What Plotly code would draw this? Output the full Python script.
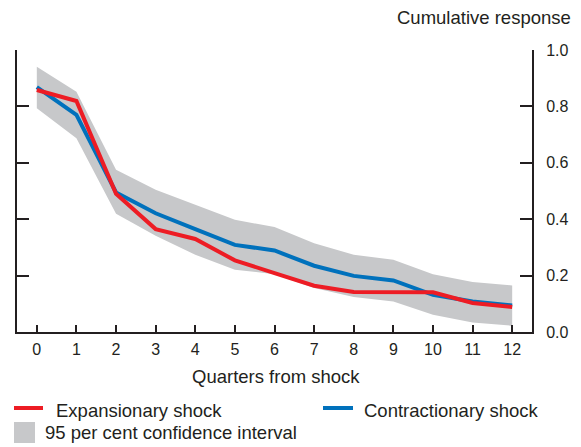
import plotly.graph_objects as go

quarters = list(range(13))
expansionary = [0.858, 0.819, 0.490, 0.365, 0.330, 0.254, 0.209, 0.164, 0.142, 0.141, 0.141, 0.103, 0.089]
contractionary = [0.868, 0.770, 0.495, 0.421, 0.365, 0.309, 0.289, 0.235, 0.199, 0.183, 0.132, 0.108, 0.094]
ci_upper = [0.941, 0.852, 0.575, 0.504, 0.451, 0.398, 0.372, 0.315, 0.274, 0.256, 0.205, 0.177, 0.165]
ci_lower = [0.793, 0.687, 0.419, 0.341, 0.274, 0.221, 0.205, 0.156, 0.124, 0.108, 0.061, 0.034, 0.022]
y_ticks = [0.0, 0.2, 0.4, 0.6, 0.8, 1.0]
y_ticklabels = ["0.0", "0.2", "0.4", "0.6", "0.8", "1.0"]

RED = "#ED1C24"
BLUE = "#0071BC"
GREY = "#C7C8CA"
AXIS = "#231F20"
TEXT = "#231F20"
FONT = "Arial, Liberation Sans, sans-serif"

W, H = 581, 447
L, R, T, B = 17, 49, 50, 115
PW, PH = W - L - R, H - T - B


def px(x):
    return (x - L) / PW


def py(y):
    return (H - B - y) / PH


fig = go.Figure()
fig.add_trace(go.Scatter(x=quarters, y=ci_lower, mode="lines", line=dict(width=0, color=GREY),
                         showlegend=False, hoverinfo="skip"))
fig.add_trace(go.Scatter(x=quarters, y=ci_upper, mode="lines", line=dict(width=0, color=GREY),
                         fill="tonexty", fillcolor=GREY, showlegend=False, hoverinfo="skip"))
fig.add_trace(go.Scatter(x=quarters, y=contractionary, mode="lines", line=dict(width=4, color=BLUE),
                         showlegend=False))
fig.add_trace(go.Scatter(x=quarters, y=expansionary, mode="lines", line=dict(width=4, color=RED),
                         showlegend=False))

shapes = [
    dict(type="line", xref="paper", yref="paper", x0=px(14), x1=px(43), y0=py(408), y1=py(408),
         line=dict(color=RED, width=4)),
    dict(type="line", xref="paper", yref="paper", x0=px(323), x1=px(353), y0=py(408), y1=py(408),
         line=dict(color=BLUE, width=4)),
    dict(type="rect", xref="paper", yref="paper", x0=px(14), x1=px(35), y0=py(443), y1=py(422),
         fillcolor=GREY, line=dict(width=0)),
]

TS = 18.5
annotations = [
    dict(text="Cumulative response", xref="paper", yref="paper", x=px(573), y=py(17),
         xanchor="right", yanchor="middle", showarrow=False, font=dict(size=TS, color=TEXT, family=FONT)),
    dict(text="Quarters from shock", xref="paper", yref="paper", x=px(276), y=py(376),
         xanchor="center", yanchor="middle", showarrow=False, font=dict(size=TS, color=TEXT, family=FONT)),
    dict(text="Expansionary shock", xref="paper", yref="paper", x=px(54), y=py(410),
         xanchor="left", yanchor="middle", showarrow=False, font=dict(size=TS, color=TEXT, family=FONT)),
    dict(text="Contractionary shock", xref="paper", yref="paper", x=px(362), y=py(410),
         xanchor="left", yanchor="middle", showarrow=False, font=dict(size=TS, color=TEXT, family=FONT)),
    dict(text="95 per cent confidence interval", xref="paper", yref="paper", x=px(43), y=py(432),
         xanchor="left", yanchor="middle", showarrow=False, font=dict(size=TS, color=TEXT, family=FONT)),
]

fig.update_layout(
    width=W, height=H,
    margin=dict(l=L, r=R, t=T, b=B),
    paper_bgcolor="white", plot_bgcolor="white",
    font=dict(family=FONT, color=TEXT, size=16),
    shapes=shapes,
    annotations=annotations,
    xaxis=dict(range=[-0.5, 12.5], tickmode="array", tickvals=quarters,
               ticktext=[str(q) for q in quarters], ticks="inside", ticklen=7, tickwidth=1.5,
               tickcolor=AXIS, showline=True, linecolor=AXIS, linewidth=2, showgrid=False,
               zeroline=False, tickfont=dict(size=16, color=TEXT), ticklabelstandoff=2),
    yaxis=dict(range=[0, 1], side="right", tickmode="array", tickvals=y_ticks, ticktext=y_ticklabels,
               ticks="inside", ticklen=12, tickwidth=1.5, tickcolor=AXIS, showline=True,
               linecolor=AXIS, linewidth=2, mirror="ticks", showgrid=False, zeroline=False,
               tickfont=dict(size=16, color=TEXT), ticklabelstandoff=9),
)

fig.write_html("out.html", config={"displayModeBar": False},
               post_script="document.body.style.margin='0';document.body.style.overflow='hidden';")
